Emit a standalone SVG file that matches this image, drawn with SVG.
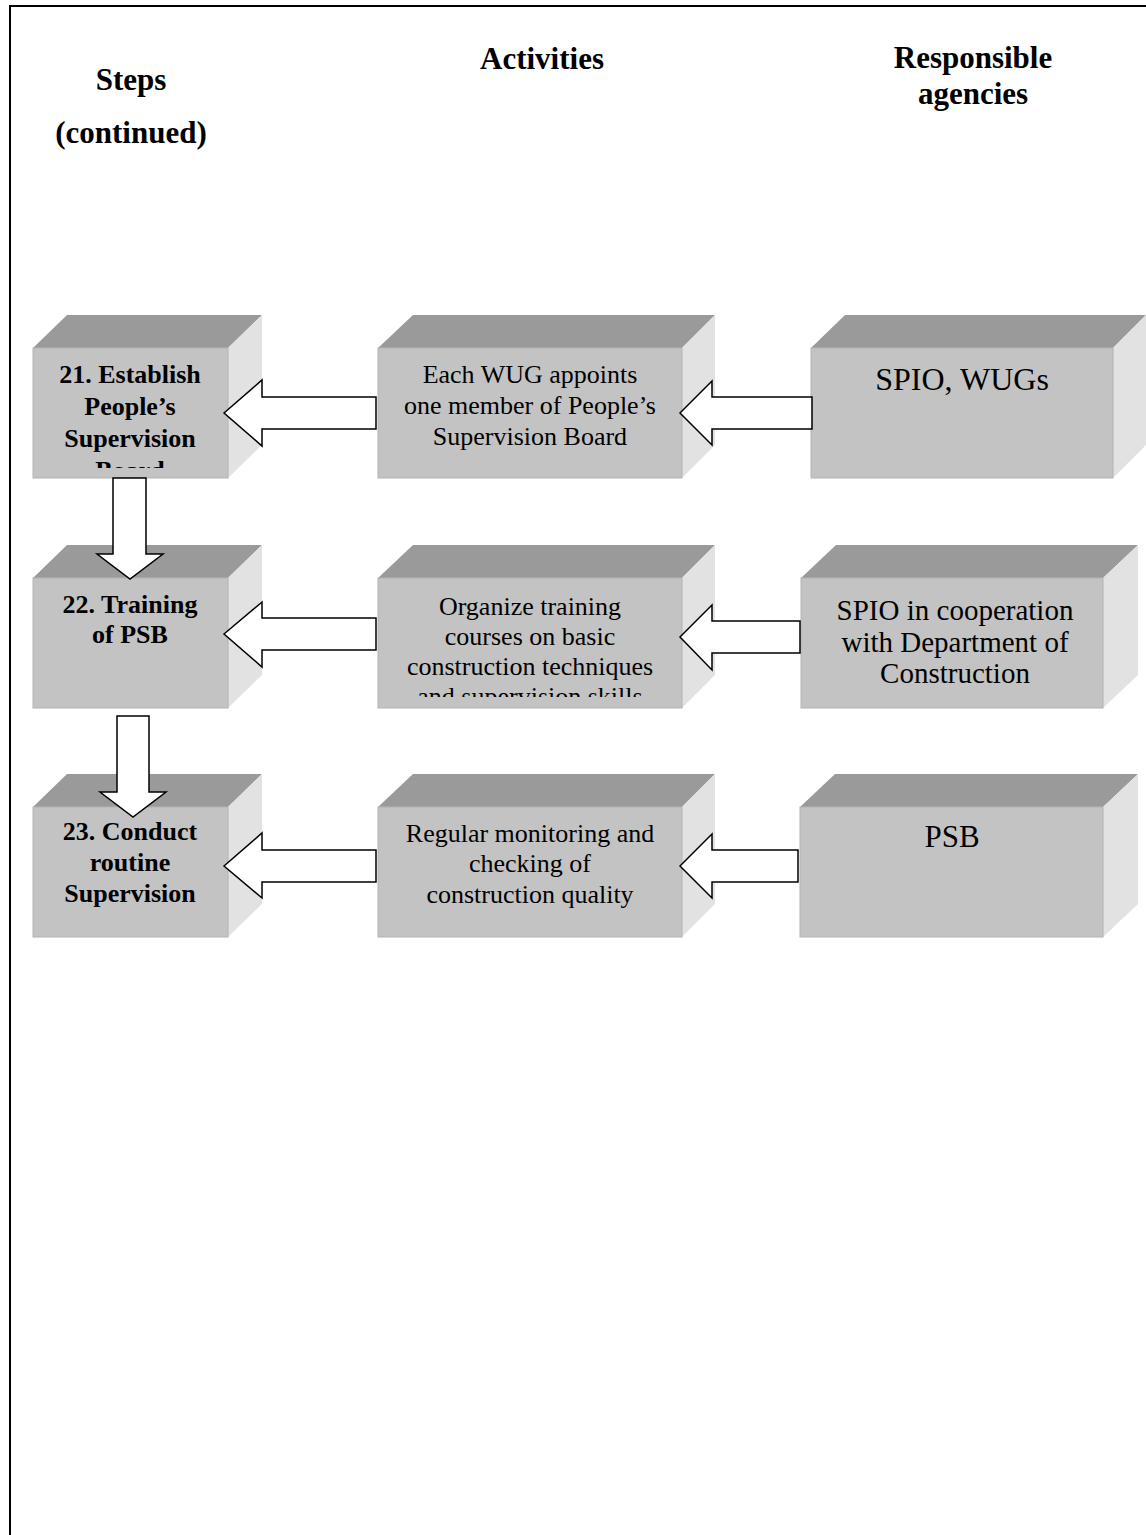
<svg xmlns="http://www.w3.org/2000/svg" width="1146" height="1535" viewBox="0 0 1146 1535">
  <style>
    .front { fill: #c3c3c3; stroke: #b3b3b3; stroke-width: 1; }
    .top { fill: #9a9a9a; }
    .side { fill: #e2e2e2; }
    .hdr { font-family: "Liberation Serif", "Times New Roman", serif; font-weight: bold; font-size: 31px; fill: #000; text-anchor: middle; }
    .step { font-family: "Liberation Serif", "Times New Roman", serif; font-weight: bold; font-size: 26px; fill: #000; text-anchor: middle; }
    .act { font-family: "Liberation Serif", "Times New Roman", serif; font-size: 26px; fill: #000; text-anchor: middle; }
    .agency { font-family: "Liberation Serif", "Times New Roman", serif; font-size: 31px; fill: #000; text-anchor: middle; }
    .arrow { fill: #fff; stroke: #000; stroke-width: 1.5; stroke-linejoin: miter; }
  </style>
  <defs>
    <clipPath id="clip-s21"><rect x="33" y="348" width="195" height="120"/></clipPath>
    <clipPath id="clip-a22"><rect x="378" y="578" width="304" height="119"/></clipPath>
  </defs>

  <rect x="0" y="0" width="1146" height="1535" fill="#fff"/>
  <!-- page frame (left and top edges) -->
  <path d="M10,1535 V6 H1146" fill="none" stroke="#000" stroke-width="2"/>

  <!-- column headers -->
  <g id="headers">
    <text class="hdr" x="131" y="90">Steps</text>
    <text class="hdr" x="131" y="143">(continued)</text>
    <text class="hdr" x="542" y="69">Activities</text>
    <text class="hdr" x="973" y="68">Responsible</text>
    <text class="hdr" x="973" y="104">agencies</text>
  </g>

  <!-- row 1 -->
  <g id="step21">
    <polygon class="top" points="33,348 67,315 262,315 228,348"/>
    <polygon class="side" points="228,348 262,315 262,445 228,478"/>
    <rect class="front" x="33" y="348" width="195" height="130"/>
    <g clip-path="url(#clip-s21)">
      <text class="step" x="130" y="383">21. Establish</text>
      <text class="step" x="130" y="415">People’s</text>
      <text class="step" x="130" y="447">Supervision</text>
      <text class="step" x="130" y="479">Board</text>
    </g>
  </g>
  <g id="activity21">
    <polygon class="top" points="378,348 413,315 715,315 682,348"/>
    <polygon class="side" points="682,348 715,315 715,445 682,478"/>
    <rect class="front" x="378" y="348" width="304" height="130"/>
    <text class="act" x="530" y="383">Each WUG appoints</text>
    <text class="act" x="530" y="414">one member of People’s</text>
    <text class="act" x="530" y="445">Supervision Board</text>
  </g>
  <g id="agency21">
    <polygon class="top" points="811,348 845,315 1146,315 1113,348"/>
    <polygon class="side" points="1113,348 1146,315 1146,445 1113,478"/>
    <rect class="front" x="811" y="348" width="302" height="130"/>
    <text class="agency" x="962" y="390" style="font-size:32px">SPIO, WUGs</text>
  </g>

  <!-- row 2 -->
  <g id="step22">
    <polygon class="top" points="33,578 67,545 262,545 228,578"/>
    <polygon class="side" points="228,578 262,545 262,675 228,708"/>
    <rect class="front" x="33" y="578" width="195" height="130"/>
    <text class="step" x="130" y="613">22. Training</text>
    <text class="step" x="130" y="643">of PSB</text>
  </g>
  <g id="activity22">
    <polygon class="top" points="378,578 413,545 715,545 682,578"/>
    <polygon class="side" points="682,578 715,545 715,675 682,708"/>
    <rect class="front" x="378" y="578" width="304" height="130"/>
    <g clip-path="url(#clip-a22)">
      <text class="act" x="530" y="615">Organize training</text>
      <text class="act" x="530" y="645">courses on basic</text>
      <text class="act" x="530" y="675">construction techniques</text>
      <text class="act" x="530" y="705">and supervision skills</text>
    </g>
  </g>
  <g id="agency22">
    <polygon class="top" points="801,578 836,545 1138,545 1103,578"/>
    <polygon class="side" points="1103,578 1138,545 1138,675 1103,708"/>
    <rect class="front" x="801" y="578" width="302" height="130"/>
    <text class="agency" x="955" y="620" style="font-size:29px">SPIO in cooperation</text>
    <text class="agency" x="955" y="652" style="font-size:29px">with Department of</text>
    <text class="agency" x="955" y="683" style="font-size:29px">Construction</text>
  </g>

  <!-- row 3 -->
  <g id="step23">
    <polygon class="top" points="33,807 67,774 262,774 228,807"/>
    <polygon class="side" points="228,807 262,774 262,904 228,937"/>
    <rect class="front" x="33" y="807" width="195" height="130"/>
    <text class="step" x="130" y="840">23. Conduct</text>
    <text class="step" x="130" y="871">routine</text>
    <text class="step" x="130" y="902">Supervision</text>
  </g>
  <g id="activity23">
    <polygon class="top" points="378,807 413,774 715,774 682,807"/>
    <polygon class="side" points="682,807 715,774 715,904 682,937"/>
    <rect class="front" x="378" y="807" width="304" height="130"/>
    <text class="act" x="530" y="842">Regular monitoring and</text>
    <text class="act" x="530" y="872">checking of</text>
    <text class="act" x="530" y="903">construction quality</text>
  </g>
  <g id="agency23">
    <polygon class="top" points="800,807 835,774 1138,774 1103,807"/>
    <polygon class="side" points="1103,807 1138,774 1138,904 1103,937"/>
    <rect class="front" x="800" y="807" width="303" height="130"/>
    <text class="agency" x="952" y="847">PSB</text>
  </g>

  <!-- block arrows -->
  <g id="connectors">
    <!-- row 1 -->
    <polygon class="arrow" points="224,413 262,380 262,397 376,397 376,429 262,429 262,446"/>
    <polygon class="arrow" points="680,413 712,381 712,397 812,397 812,429 712,429 712,445"/>
    <!-- row 2 -->
    <polygon class="arrow" points="224,634 262,602 262,618 376,618 376,650 262,650 262,667"/>
    <polygon class="arrow" points="680,637 712,605 712,621 800,621 800,653 712,653 712,670"/>
    <!-- row 3 -->
    <polygon class="arrow" points="224,866 262,833 262,850 376,850 376,882 262,882 262,898"/>
    <polygon class="arrow" points="680,866 712,834 712,850 798,850 798,882 712,882 712,898"/>
    <!-- step to step -->
    <polygon class="arrow" points="113,478 146,478 146,554 163,554 130,579 97,554 113,554"/>
    <polygon class="arrow" points="117,716 149,716 149,792 166,792 133,817 100,792 117,792"/>
  </g>
</svg>
